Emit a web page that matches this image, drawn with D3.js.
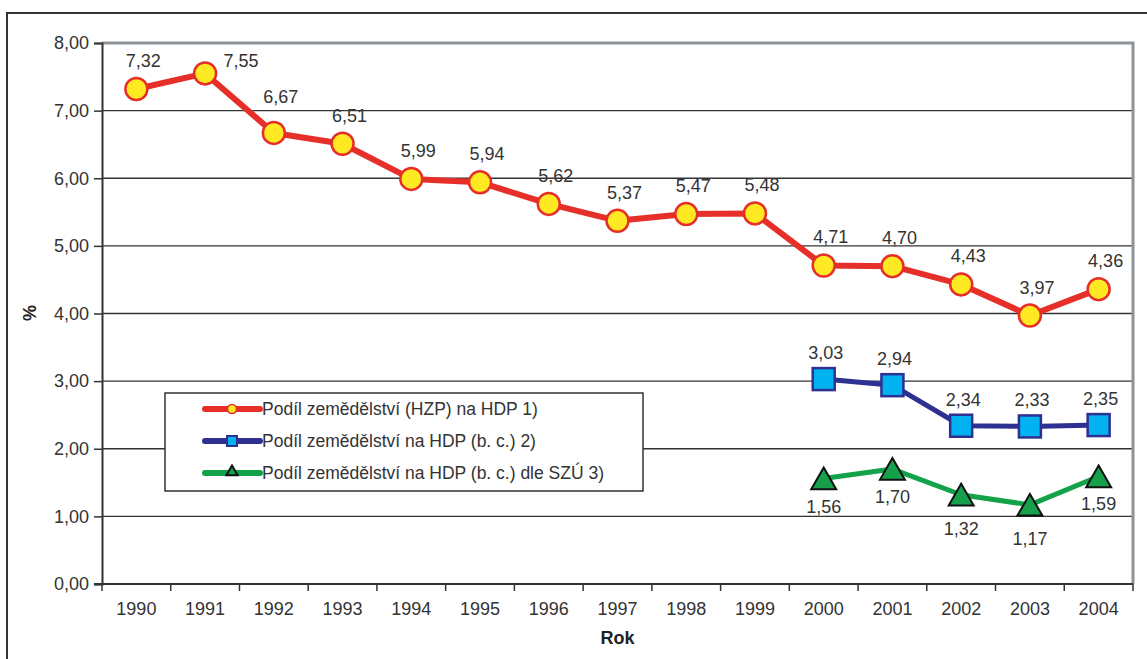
<!DOCTYPE html>
<html>
<head>
<meta charset="utf-8">
<script src="https://cdn.jsdelivr.net/npm/d3@7"></script>
<style>
  body { margin: 0; background: #fff; }
  svg { display: block; font-family: "Liberation Sans", Arial, sans-serif; }
</style>
</head>
<body>
<svg width="1147" height="659"></svg>
<script>
var svg = d3.select("svg"),
	width = +svg.attr("width"),
	height = +svg.attr("height");

//data
var years = ["1990", "1991", "1992", "1993", "1994", "1995", "1996", "1997", "1998", "1999", "2000", "2001", "2002", "2003", "2004"];
var hzp = [7.32, 7.55, 6.67, 6.51, 5.99, 5.94, 5.62, 5.37, 5.47, 5.48, 4.71, 4.70, 4.43, 3.97, 4.36];
var bcYears = ["2000", "2001", "2002", "2003", "2004"];
var bc = [3.03, 2.94, 2.34, 2.33, 2.35];
var szu = [1.56, 1.70, 1.32, 1.17, 1.59];
var yTicks = [0, 1, 2, 3, 4, 5, 6, 7, 8];
var legendNames = ["Podíl zemědělství (HZP) na HDP 1)", "Podíl zemědělství na HDP (b. c.) 2)", "Podíl zemědělství na HDP (b. c.) dle SZÚ 3)"];

var margin = { left: 102, top: 43, right: 1133, bottom: 584 };

var x = d3.scaleBand()
	.domain(years)
	.range([margin.left, margin.right]);

var y = d3.scaleLinear()
	.domain([0, 8])
	.range([margin.bottom, margin.top]);

var fmt = function (v) { return d3.format(".2f")(v).replace(".", ","); };
var cx = function (yr) { return x(yr) + x.bandwidth() / 2; };

var fontSize = 18;

//outer frame
svg.append("rect")
	.attr("x", 7).attr("y", 13)
	.attr("width", 1160).attr("height", 700)
	.attr("fill", "none")
	.attr("stroke", "#333")
	.attr("stroke-width", 2);

//gridlines
svg.append("g")
	.selectAll("line")
	.data(yTicks.filter(function (d) { return d > 0 && d < 8; }))
	.enter().append("line")
	.attr("x1", margin.left).attr("x2", margin.right)
	.attr("y1", function (d) { return y(d); })
	.attr("y2", function (d) { return y(d); })
	.attr("stroke", "#333")
	.attr("stroke-width", 1.3);

//gray top and right border of plot area
svg.append("path")
	.attr("d", "M" + margin.left + "," + margin.top + "H" + margin.right + "V" + margin.bottom)
	.attr("fill", "none")
	.attr("stroke", "#8c9399")
	.attr("stroke-width", 3);

//y axis
var yAxis = svg.append("g")
	.attr("transform", "translate(" + margin.left + ",0)")
	.call(d3.axisLeft(y).tickValues(yTicks).tickFormat(fmt).tickSize(8).tickPadding(5));
yAxis.select(".domain").attr("stroke", "#333").attr("stroke-width", 2);
yAxis.selectAll(".tick line").attr("stroke", "#333").attr("stroke-width", 1.5);
yAxis.selectAll("text").attr("font-size", fontSize).attr("fill", "#333").attr("font-family", "Liberation Sans, Arial, sans-serif");

//x axis, ticks between categories
var xAxis = svg.append("g")
	.attr("transform", "translate(0," + margin.bottom + ")")
	.call(d3.axisBottom(x).tickSize(0).tickPadding(18));
xAxis.select(".domain").remove();
xAxis.selectAll("text").attr("font-size", fontSize).attr("fill", "#333").attr("font-family", "Liberation Sans, Arial, sans-serif");
svg.append("line")
	.attr("x1", margin.left - 8).attr("x2", margin.right)
	.attr("y1", margin.bottom).attr("y2", margin.bottom)
	.attr("stroke", "#333").attr("stroke-width", 2);
svg.append("g")
	.selectAll("line")
	.data(years.concat(["end"]))
	.enter().append("line")
	.attr("x1", function (d, i) { return i < years.length ? x(d) : margin.right; })
	.attr("x2", function (d, i) { return i < years.length ? x(d) : margin.right; })
	.attr("y1", margin.bottom)
	.attr("y2", margin.bottom + 7)
	.attr("stroke", "#333").attr("stroke-width", 1.5);

//axis titles
svg.append("text")
	.attr("x", (margin.left + margin.right) / 2)
	.attr("y", 644)
	.attr("text-anchor", "middle")
	.attr("font-size", 18).attr("font-weight", "bold").attr("fill", "#222")
	.text("Rok");

svg.append("text")
	.attr("transform", "translate(36,313) rotate(-90)")
	.attr("text-anchor", "middle")
	.attr("font-size", 18).attr("font-weight", "bold").attr("fill", "#222")
	.text("%");

var line = d3.line()
	.x(function (d) { return cx(d.year); })
	.y(function (d) { return y(d.v); });

var redData = years.map(function (yr, i) { return { year: yr, v: hzp[i] }; });
var blueData = bcYears.map(function (yr, i) { return { year: yr, v: bc[i] }; });
var greenData = bcYears.map(function (yr, i) { return { year: yr, v: szu[i] }; });

//red series
svg.append("path")
	.attr("d", line(redData))
	.attr("fill", "none")
	.attr("stroke", "#e62f29")
	.attr("stroke-width", 6)
	.attr("stroke-linejoin", "round");
svg.append("g").selectAll("circle")
	.data(redData)
	.enter().append("circle")
	.attr("cx", function (d) { return cx(d.year); })
	.attr("cy", function (d) { return y(d.v); })
	.attr("r", 11)
	.attr("fill", "#ffe923")
	.attr("stroke", "#e62f29")
	.attr("stroke-width", 2.5);

//blue series
svg.append("path")
	.attr("d", line(blueData))
	.attr("fill", "none")
	.attr("stroke", "#2e3192")
	.attr("stroke-width", 5)
	.attr("stroke-linejoin", "round");
svg.append("g").selectAll("rect")
	.data(blueData)
	.enter().append("rect")
	.attr("x", function (d) { return cx(d.year) - 11; })
	.attr("y", function (d) { return y(d.v) - 11; })
	.attr("width", 22).attr("height", 22)
	.attr("fill", "#00b2ef")
	.attr("stroke", "#2e3192")
	.attr("stroke-width", 2.5);

//green series
svg.append("path")
	.attr("d", line(greenData))
	.attr("fill", "none")
	.attr("stroke", "#12a24a")
	.attr("stroke-width", 5)
	.attr("stroke-linejoin", "round");
var tri = d3.symbol().type(d3.symbolTriangle).size(270);
svg.append("g").selectAll("path")
	.data(greenData)
	.enter().append("path")
	.attr("d", tri)
	.attr("transform", function (d) { return "translate(" + cx(d.year) + "," + (y(d.v) + 3.5) + ")"; })
	.attr("fill", "#16a04a")
	.attr("stroke", "#111")
	.attr("stroke-width", 2);

//data labels
svg.append("g").selectAll("text")
	.data(redData)
	.enter().append("text")
	.attr("x", function (d, i) { return cx(d.year) + (i == 1 ? 36 : 7); })
	.attr("y", function (d, i) { return y(d.v) - (i == 1 ? 6 : i == 2 ? 30 : 22); })
	.attr("text-anchor", "middle")
	.attr("font-size", fontSize).attr("fill", "#333")
	.text(function (d) { return fmt(d.v); });

svg.append("g").selectAll("text")
	.data(blueData)
	.enter().append("text")
	.attr("x", function (d) { return cx(d.year) + 2; })
	.attr("y", function (d) { return y(d.v) - 20; })
	.attr("text-anchor", "middle")
	.attr("font-size", fontSize).attr("fill", "#333")
	.text(function (d) { return fmt(d.v); });

svg.append("g").selectAll("text")
	.data(greenData)
	.enter().append("text")
	.attr("x", function (d) { return cx(d.year); })
	.attr("y", function (d, i) { return y(d.v) + (i == 2 || i == 3 ? 40 : 34); })
	.attr("text-anchor", "middle")
	.attr("font-size", fontSize).attr("fill", "#333")
	.text(function (d) { return fmt(d.v); });

//legend
var legend = svg.append("g");
legend.append("rect")
	.attr("x", 165).attr("y", 393)
	.attr("width", 478).attr("height", 98)
	.attr("fill", "#fff")
	.attr("stroke", "#333")
	.attr("stroke-width", 1.5);

var legendColors = ["#e62f29", "#2e3192", "#12a24a"];
var rows = legend.selectAll(".row")
	.data(legendNames)
	.enter().append("g")
	.attr("class", "row")
	.attr("transform", function (d, i) { return "translate(0," + (409 + i * 32) + ")"; });

rows.append("line")
	.attr("x1", 205).attr("x2", 260)
	.attr("y1", 0).attr("y2", 0)
	.attr("stroke", function (d, i) { return legendColors[i]; })
	.attr("stroke-width", 6)
	.attr("stroke-linecap", "round");

rows.each(function (d, i) {
	var r = d3.select(this);
	if (i == 0) {
		r.append("circle").attr("cx", 232).attr("cy", 0).attr("r", 4.5)
			.attr("fill", "#ffe923").attr("stroke", "#e62f29").attr("stroke-width", 1.5);
	} else if (i == 1) {
		r.append("rect").attr("x", 227).attr("y", -5).attr("width", 10).attr("height", 10)
			.attr("fill", "#00b2ef").attr("stroke", "#2e3192").attr("stroke-width", 2);
	} else {
		r.append("path").attr("d", d3.symbol().type(d3.symbolTriangle).size(55))
			.attr("transform", "translate(232,-1)")
			.attr("fill", "#16a04a").attr("stroke", "#111").attr("stroke-width", 2);
	}
});

rows.append("text")
	.attr("x", 262)
	.attr("y", 6)
	.attr("font-size", 17.5).attr("fill", "#333")
	.text(function (d) { return d; });
</script>
</body>
</html>
